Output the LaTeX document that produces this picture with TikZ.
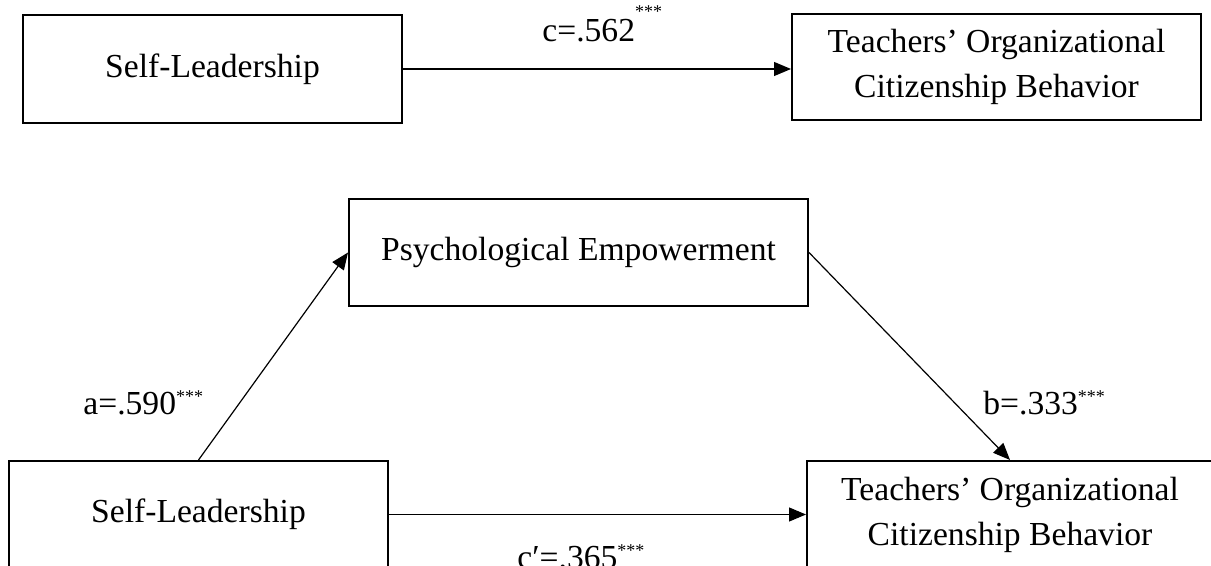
\documentclass[tikz,border=0pt]{standalone}
\usepackage{fontspec}
\setmainfont{Liberation Serif}
\usepackage{tikz}
\usetikzlibrary{positioning, arrows.meta, calc}
\tikzstyle{varbox} = [rectangle, draw, line width=1pt, align=center, inner sep=0pt,
                      minimum height=53.5pt]
\tikzstyle{path}   = [-{Triangle[length=8.5pt, width=7pt]}, line width=0.6pt]
\newcommand{\sigstar}{\textsuperscript{\fontsize{9}{9}\selectfont ***}}

\begin{document}
\begin{tikzpicture}[x=0.5pt, y=-0.5pt, font=\fontsize{16.8}{22.5}\selectfont,
  coef/.style={anchor=base west, inner sep=0pt}]
\useasboundingbox (0,0) rectangle (1211,566);
\clip (0,0) rectangle (1211,566);
\node[varbox, minimum width=189.5pt, minimum height=54pt] (sl1) at (212.5,69) {Self-Leadership};
\node[varbox, minimum width=204.5pt, minimum height=53pt] (toc1) at (996.5,67) {Teachers’ Organizational\\Citizenship Behavior};
\node[varbox, minimum width=229.5pt] (pe) at (578.5,252.5) {Psychological Empowerment};
\node[varbox, minimum width=189.5pt] (sl2) at (198.5,514.5) {Self-Leadership};
\node[varbox, minimum width=203pt] (toc2) at (1010,514.5) {Teachers’ Organizational\\Citizenship Behavior};
\draw[path] (sl1.east) -- (sl1.east -| toc1.west);
\draw[path] (sl2.north) -- (pe.west);
\draw[path] (pe.east) -- (toc2.north);
\draw[path] (sl2.east) -- (toc2.west);
\node[coef] (lc) at (542,42) {c=.562\raisebox{0.35em}{\sigstar}};
\node[coef] (la) at (83,415) {a=.590\sigstar};
\node[coef] (lb) at (983,415) {b=.333\sigstar};
\node[coef] (lcp) at (517,569) {c′=.365\sigstar};
\end{tikzpicture}
\end{document}
